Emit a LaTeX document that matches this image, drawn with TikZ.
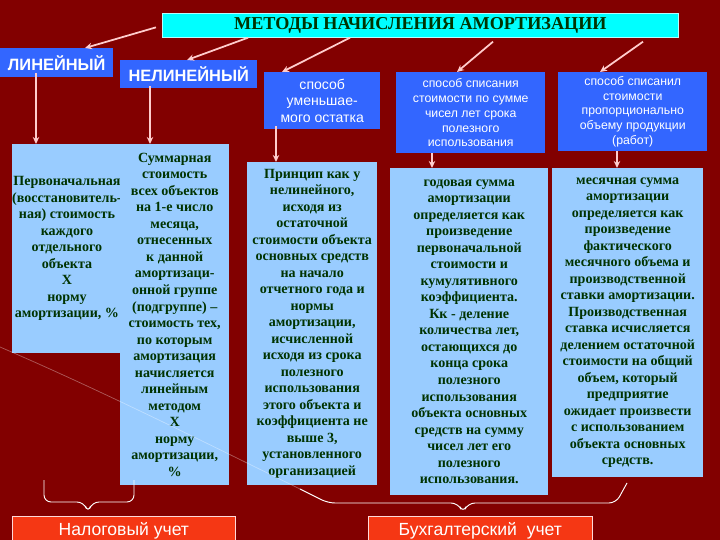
\documentclass[tikz,border=0pt]{standalone}
\usepackage{fontspec}
\setmainfont{Liberation Serif}
\setsansfont{Liberation Sans}
\usepackage{xcolor}
\usetikzlibrary{calc, arrows.meta}

\definecolor{bgred}{RGB}{130,0,0}
\definecolor{hdrblue}{RGB}{51,102,255}
\definecolor{paleblue}{RGB}{153,204,255}
\definecolor{titlecyan}{RGB}{0,255,255}
\definecolor{txtgreen}{RGB}{0,51,0}
\definecolor{arrowpink}{RGB}{255,204,204}
\definecolor{accred}{RGB}{245,55,20}

\newcommand{\pxu}{0.03cm}

\tikzset{
  wh/.style 2 args={minimum width=#1*\pxu, minimum height=#2*\pxu},
  headbox/.style={fill=hdrblue, text=white, align=center, inner sep=0pt, anchor=north west},
  bodybox/.style={fill=paleblue, text=txtgreen, align=center, inner sep=0pt, anchor=north west,
    font=\fontsize{12}{14.1}\selectfont\bfseries},
  accbox/.style={fill=accred, draw=white!85!red, line width=0.6pt, text=white, inner sep=0pt,
    anchor=north west, font=\sffamily\fontsize{15}{18}\selectfont},
  arr/.style={draw=arrowpink, line width=1.5pt, -{Stealth[length=6pt,width=5.5pt]}},
  bracket/.style={draw=white, line width=0.8pt, rounded corners=6pt},
}

\begin{document}
\begin{tikzpicture}[x=0.03cm, y=-0.03cm]
        % Background
        \fill[bgred] (0,0) rectangle (720,540);
        \clip (0,0) rectangle (720,540);

        % Title
        \node[fill=titlecyan, draw=white!70!titlecyan, line width=0.6pt, text=txtgreen, inner sep=0pt,
          anchor=north west, wh={516}{24}, font=\bfseries\fontsize{15.5}{18}\selectfont]
          (title) at (162,13) {МЕТОДЫ НАЧИСЛЕНИЯ АМОРТИЗАЦИИ};

        % Method headers
        \node[headbox, wh={113}{29}, font=\sffamily\bfseries\fontsize{14}{16}\selectfont] (lin) at (0,48) {ЛИНЕЙНЫЙ};
        \node[headbox, wh={137}{28}, font=\sffamily\bfseries\fontsize{14}{16}\selectfont] (nonlin) at (120,60) {НЕЛИНЕЙНЫЙ};
        \node[headbox, wh={116}{57}, font=\sffamily\fontsize{12}{14}\selectfont] (reduce) at (264,72)
          {способ\\уменьшае-\\мого остатка};
        \node[headbox, wh={149}{81}, font=\sffamily\fontsize{10.5}{12.7}\selectfont] (sumyears) at (396,72)
          {способ списания\\стоимости по сумме\\чисел лет срока\\полезного\\использования};
        \node[headbox, wh={149}{79}, font=\sffamily\fontsize{10.5}{12.7}\selectfont] (volume) at (558,72)
          {способ списанил\\стоимости\\пропорционально\\объему продукции\\(работ)};

        % Formulas
        \node[bodybox, wh={103}{209}] (box1) at (12,144)
          {Первоначальная\\(восстановитель-\\ная) стоимость\\каждого\\отдельного\\объекта\\Х\\норму\\амортизации, \%};
        \node[bodybox, wh={109}{341}] (box2) at (120,144)
          {Суммарная\\стоимость\\всех объектов\\на 1-е число\\месяца,\\отнесенных\\к данной\\амортизаци-\\онной группе\\(подгруппе) –\\стоимость тех,\\по которым\\амортизация\\начисляется\\линейным\\методом\\Х\\норму\\амортизации,\\\%};
        \node[bodybox, wh={130}{323}] (box3) at (247,162)
          {Принцип как у\\нелинейного,\\исходя из\\остаточной\\стоимости объекта\\основных средств\\на начало\\отчетного года и\\нормы\\амортизации,\\исчисленной\\исходя из срока\\полезного\\использования\\этого объекта и\\коэффициента не\\выше 3,\\установленного\\организацией};
        \node[bodybox, wh={158}{327}] (box4) at (390,168)
          {годовая сумма\\амортизации\\определяется как\\произведение\\первоначальной\\стоимости и\\кумулятивного\\коэффициента.\\Кк - деление\\количества лет,\\остающихся до\\конца срока\\полезного\\использования\\объекта основных\\средств на сумму\\чисел лет его\\полезного\\использования.};
        \node[bodybox, wh={151}{309}] (box5) at (552,168)
          {месячная сумма\\амортизации\\определяется как\\произведение\\фактического\\месячного объема и\\производственной\\ставки амортизации.\\Производственная\\ставка исчисляется\\делением остаточной\\стоимости на общий\\объем, который\\предприятие\\ожидает произвести\\с использованием\\объекта основных\\средств.};

        % Accounting boxes
        \node[accbox, wh={223}{28}] (tax) at (12,516) {Налоговый учет};
        \node[accbox, wh={224}{28}] (acct) at (368,516) {Бухгалтерский~ учет};

        % Arrows from the title
        \draw[arr] ($(title.west)+(-6,2)$) -- ($(lin.north west)+(85,0)$);
        \draw[arr] ($(title.south west)+(86,0)$) -- ($(nonlin.north west)+(67,0)$);
        \draw[arr] ($(title.south west)+(188,0)$) -- ($(reduce.north west)+(18,0)$);
        \draw[arr] ($(title.south west)+(331,4)$) -- ($(sumyears.north west)+(61,0)$);
        \draw[arr] ($(title.south west)+(481,4)$) -- ($(volume.north west)+(42,0)$);

        % Arrows down to the formulas
        \draw[arr] ($(lin.south west)+(36,-4)$) -- ($(box1.north west)+(24,0)$);
        \draw[arr] ($(nonlin.south west)+(30,-2)$) -- ($(box2.north west)+(30,0)$);
        \draw[arr] ($(reduce.south west)+(12,-3)$) -- ($(box3.north west)+(29,0)$);
        \draw[arr] ($(sumyears.south west)+(36,0)$) -- ($(box4.north west)+(42,0)$);
        \draw[arr] ($(volume.south west)+(59,0)$) -- ($(box5.north west)+(65,0)$);

        % Background swoosh
        \draw[white, opacity=0.35, line width=0.6pt] (0,347) .. controls (100,390) and (200,440) .. (300,489);

        % Brackets
        \draw[bracket] (44,480) |- (84,502) -- (88,513) -- (92,502) -| (134,480);
        \draw[bracket] (300,489) -- (328,503) -- (458,503) -- (463,513) -- (468,503) -- (616,503) -- (627,483);

\end{tikzpicture}
\end{document}
